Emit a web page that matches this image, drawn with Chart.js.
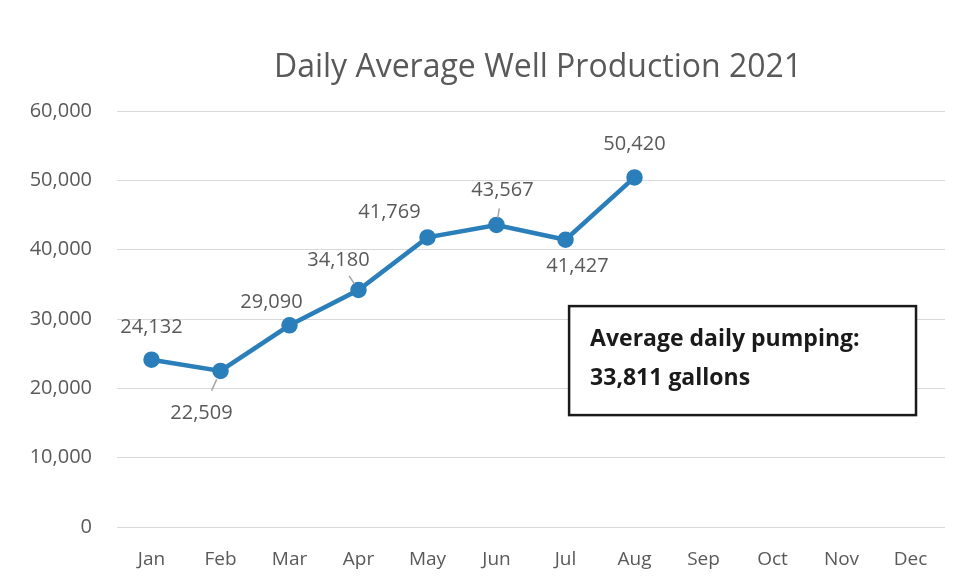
<!DOCTYPE html>
<html><head><meta charset="utf-8">
<script src="https://cdn.jsdelivr.net/npm/chart.js@4"></script>
<style>html,body{margin:0;padding:0;background:#fff}</style>
</head><body>
<canvas id="c" width="958" height="584"></canvas>
<script>
const chartTitle = 'Daily Average Well Production 2021';
const months = ['Jan','Feb','Mar','Apr','May','Jun','Jul','Aug','Sep','Oct','Nov','Dec'];
const production = [24132, 22509, 29090, 34180, 41769, 43567, 41427, 50420, null, null, null, null];
const yTickValues = [0, 10000, 20000, 30000, 40000, 50000, 60000];
const noteLines = ['Average daily pumping:', '33,811 gallons'];

const fmt = v => v.toLocaleString('en-US');

const overlay = {
  id: 'overlay',
  afterDraw(chart, args, opts) {
    const ctx = chart.ctx;
    const ca = chart.chartArea;
    const meta = chart.getDatasetMeta(0);
    const vals = chart.data.datasets[0].data;
    ctx.save();
    // title
    ctx.font = '32px "Open Sans"';
    ctx.fillStyle = '#595959';
    ctx.textAlign = 'center';
    ctx.textBaseline = 'middle';
    ctx.fillText(opts.title, (ca.left + ca.right) / 2 + 7, 68);
    // data labels
    ctx.font = '20px "Open Sans"';
    ctx.fillStyle = '#595959';
    meta.data.forEach((pt, i) => {
      const v = vals[i];
      if (v == null) return;
      const off = opts.offsets[i];
      const lx = pt.x + off[0], ly = pt.y + off[1];
      ctx.fillText(fmt(v), lx, ly);
      if (off[2]) {
        const dx = pt.x - lx, dy = pt.y - ly;
        ctx.strokeStyle = '#a6a6a6';
        ctx.lineWidth = 1.5;
        ctx.beginPath();
        ctx.moveTo(lx + dx * 0.53, ly + dy * 0.53);
        ctx.lineTo(lx + dx * 0.8, ly + dy * 0.8);
        ctx.stroke();
      }
    });
    // note box
    const w = ca.right - ca.left, h = ca.bottom - ca.top;
    const bx = ca.left + w * 0.546, by = ca.top + h * 0.469;
    const bw = w * (0.965 - 0.546), bh = h * (0.731 - 0.469);
    ctx.fillStyle = '#ffffff';
    ctx.fillRect(bx, by, bw, bh);
    ctx.strokeStyle = '#1a1a1a';
    ctx.lineWidth = 2.5;
    ctx.strokeRect(bx, by, bw, bh);
    ctx.fillStyle = '#1a1a1a';
    ctx.font = 'bold 23px "Open Sans"';
    ctx.textAlign = 'left';
    ctx.fillText(opts.note[0], bx + 21, by + 33);
    ctx.fillText(opts.note[1], bx + 21, by + 72);
    ctx.restore();
  }
};

new Chart(document.getElementById('c'), {
  type: 'line',
  data: {
    labels: months,
    datasets: [{
      data: production,
      borderColor: '#2a7fba',
      backgroundColor: '#2a7fba',
      borderWidth: 4.5,
      pointRadius: 6,
      pointHoverRadius: 6,
      pointBackgroundColor: '#2a7fba',
      pointBorderColor: '#2a7fba',
      tension: 0,
      spanGaps: false
    }]
  },
  options: {
    responsive: false,
    animation: false,
    layout: { padding: { left: 0, right: 13, top: 111, bottom: 0 } },
    plugins: {
      legend: { display: false },
      title: { display: false },
      tooltip: { enabled: false },
      overlay: {
        title: chartTitle,
        note: noteLines,
        offsets: [[0,-32],[-19,42,1],[-18,-23],[-20,-30,1],[-38,-25],[6,-35,1],[12,27],[0,-33]]
      }
    },
    scales: {
      x: {
        offset: true,
        afterFit: s => { s.height = 57; },
        grid: { display: false, drawTicks: false },
        border: { display: false },
        ticks: { color: '#595959', font: { family: 'Open Sans', size: 19 }, padding: 21 }
      },
      y: {
        min: 0, max: 60000,
        afterBuildTicks: s => { s.ticks = yTickValues.map(v => ({ value: v })); },
        afterFit: s => { s.width = 117; },
        grid: { color: '#d9d9d9', lineWidth: 1, drawTicks: false },
        border: { display: false },
        ticks: { color: '#595959', font: { family: 'Open Sans', size: 20 }, padding: 25, callback: v => fmt(v) }
      }
    }
  },
  plugins: [overlay]
});
</script>
</body></html>
